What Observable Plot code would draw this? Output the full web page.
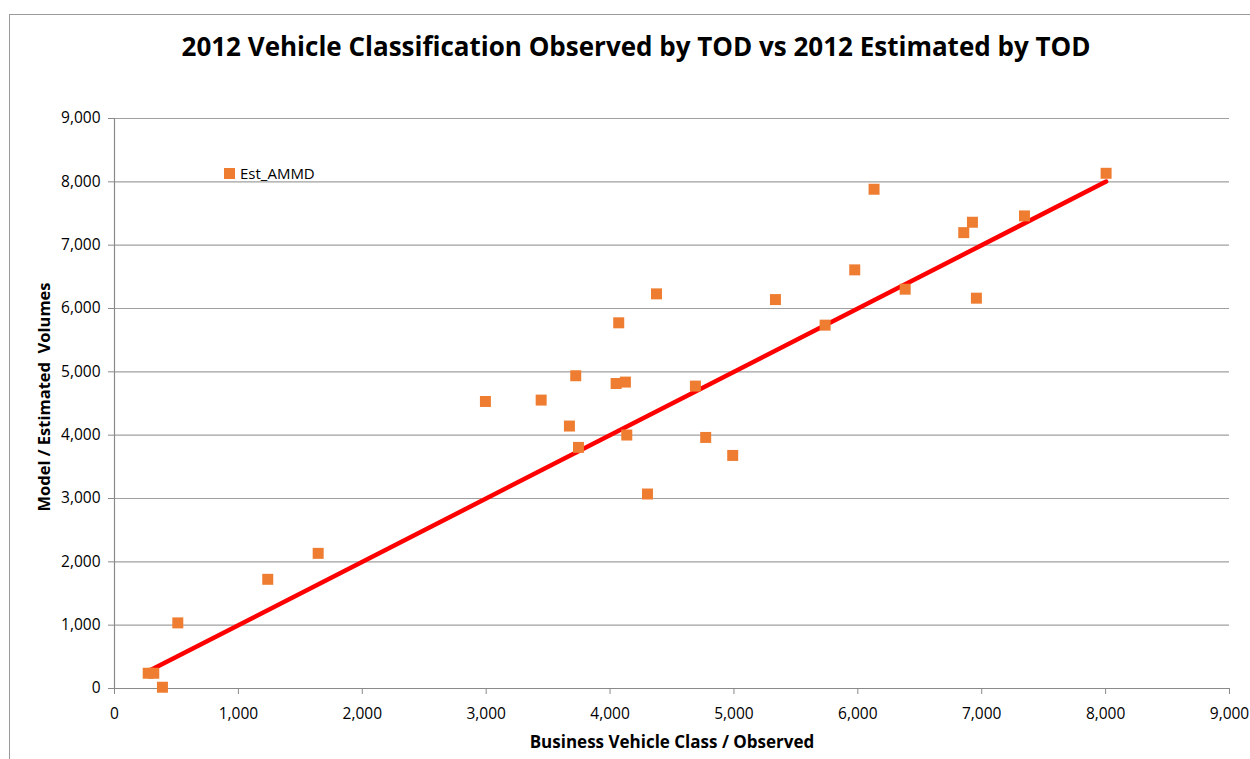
<!DOCTYPE html>
<html>
<head>
<meta charset="utf-8">
<script src="https://cdn.jsdelivr.net/npm/d3@7"></script>
<script src="https://cdn.jsdelivr.net/npm/@observablehq/plot@0.6"></script>
<style>
  html, body { margin: 0; padding: 0; background: #fff; width: 1250px; height: 759px; overflow: hidden; position: relative; }
  .frame { position: absolute; left: 9px; top: 14px; width: 1400px; height: 900px; border-left: 1.5px solid #9a9a9a; border-top: 1.5px solid #9a9a9a; }
  .title { position: absolute; left: 636px; top: 46px; transform: translate(-50%, -50%); font-family: "Open Sans"; font-weight: 700; font-size: 26px; line-height: 26px; white-space: nowrap; color: #000; }
  .xlabel { position: absolute; left: 672px; top: 741px; transform: translate(-50%, -50%); font-family: "Open Sans"; font-weight: 700; font-size: 17px; line-height: 17px; white-space: nowrap; }
  .ylabel { position: absolute; left: 44px; top: 397px; transform: translate(-50%, -50%) rotate(-90deg); font-family: "Open Sans"; font-weight: 700; font-size: 16.5px; line-height: 16.5px; white-space: pre; }
  .legend { position: absolute; left: 224px; top: 166px; font-family: "Open Sans"; font-size: 15px; line-height: 15px; white-space: nowrap; display: flex; align-items: center; }
  .legend .sw { width: 11px; height: 11px; background: #EE7D31; margin-right: 5px; }
  #chart { position: absolute; left: 0; top: 90px; }
</style>
</head>
<body>
<div class="frame"></div>
<div class="title">2012 Vehicle Classification Observed by TOD vs 2012 Estimated by TOD</div>
<div id="chart"></div>
<div class="legend"><div class="sw"></div><span>Est_AMMD</span></div>
<div class="ylabel">Model / Estimated  Volumes</div>
<div class="xlabel">Business Vehicle Class / Observed</div>
<script>
const seriesName = "Est_AMMD";
const observed = [272, 317, 387, 511, 1237, 1644, 2994, 3444, 3672, 3723, 3745, 4049, 4124, 4070, 4135, 4302, 4375, 4689, 4772, 4990, 5335, 5736, 5975, 6131, 6382, 6855, 6925, 6957, 7345, 8004];
const estimated = [241, 241, 20, 1036, 1724, 2134, 4532, 4554, 4144, 4938, 3807, 4816, 4838, 5774, 4002, 3071, 6231, 4775, 3964, 3680, 6141, 5737, 6610, 7883, 6305, 7198, 7362, 6163, 7462, 8135];
const xTicks = [0, 1000, 2000, 3000, 4000, 5000, 6000, 7000, 8000, 9000];
const yTicks = [0, 1000, 2000, 3000, 4000, 5000, 6000, 7000, 8000, 9000];

const points = observed.map((x, i) => ({x, y: estimated[i]}));
const [xmin, xmax] = d3.extent(observed);
const fit = [{x: xmin, y: xmin}, {x: xmax, y: xmax}];
const fmt = d3.format(",");

const chart = Plot.plot({
  width: 1250,
  height: 670,
  marginTop: 28,
  marginBottom: 72,
  marginLeft: 114,
  marginRight: 21,
  x: {domain: [0, 9000]},
  y: {domain: [0, 9000]},
  style: {fontFamily: "Open Sans", fontSize: "15.5px", color: "black", background: "transparent", overflow: "visible"},
  marks: [
    Plot.gridY(yTicks, {stroke: "#a0a0a0", strokeOpacity: 1, strokeWidth: 1.2}),
    Plot.ruleX([0], {stroke: "#8a8a8a", strokeWidth: 1.2}),
    Plot.ruleY([0], {stroke: "#8a8a8a", strokeWidth: 1.2}),
    Plot.axisY(yTicks, {tickSize: 6, tickPadding: 8, tickFormat: fmt, stroke: "#8a8a8a", fill: "black", label: null}),
    Plot.axisX(xTicks, {tickSize: 6, tickPadding: 13, tickFormat: fmt, stroke: "#8a8a8a", fill: "black", label: null}),
    Plot.line(fit, {x: "x", y: "y", stroke: "#ff0000", strokeWidth: 4.5}),
    Plot.dot(points, {x: "x", y: "y", symbol: "square", r: 6.2, fill: "#EE7D31", stroke: "none"})
  ]
});
document.getElementById("chart").appendChild(chart);
</script>
</body>
</html>
